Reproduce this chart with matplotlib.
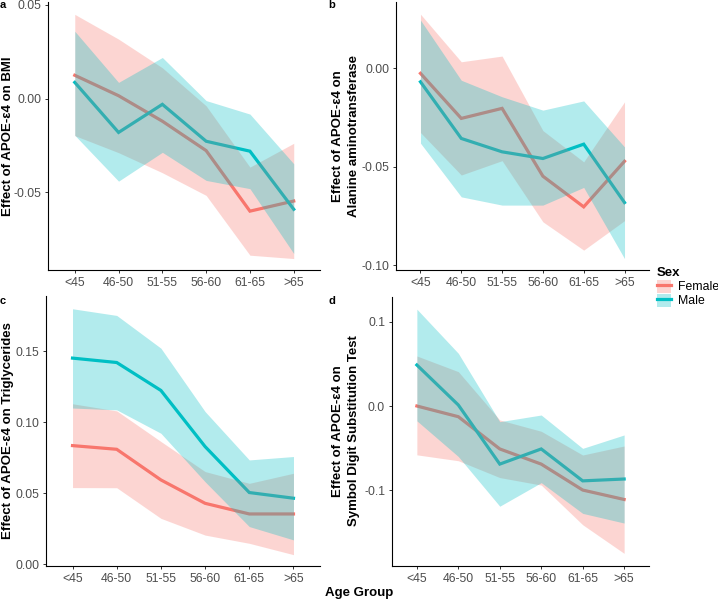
"""
APOE-e4 effect by age group and sex, four panels (BMI, ALT, TG, DSST)
"""

import matplotlib
matplotlib.use('Agg')
import matplotlib.pyplot as plt
from matplotlib.lines import Line2D
from matplotlib.patches import Patch

plt.rcParams['font.family'] = ['Liberation Sans', 'DejaVu Sans']
plt.rcParams['axes.unicode_minus'] = False

# Age groups
ages = ['<45', '46-50', '51-55', '56-60', '61-65', '>65']

# a - BMI
bmi_f = [0.0125, 0.0016, -0.012, -0.0277, -0.060, -0.0546]
bmi_f_lo = [-0.0197, -0.0288, -0.0395, -0.0516, -0.0835, -0.0853]
bmi_f_hi = [0.045, 0.0318, 0.0165, -0.0038, -0.0365, -0.0238]
bmi_m = [0.0087, -0.018, -0.003, -0.0227, -0.028, -0.059]
bmi_m_lo = [-0.0195, -0.044, -0.0286, -0.0436, -0.048, -0.0826]
bmi_m_hi = [0.036, 0.0087, 0.022, -0.001, -0.0082, -0.0347]

# b - Alanine aminotransferase
alt_f = [-0.0025, -0.0254, -0.0203, -0.0548, -0.0704, -0.0472]
alt_f_lo = [-0.0326, -0.0542, -0.0469, -0.078, -0.0924, -0.0774]
alt_f_hi = [0.0276, 0.0034, 0.0063, -0.0316, -0.0475, -0.017]
alt_m = [-0.0068, -0.0356, -0.0424, -0.0458, -0.0385, -0.0682]
alt_m_lo = [-0.038, -0.0653, -0.0695, -0.0695, -0.0605, -0.0967]
alt_m_hi = [0.0246, -0.006, -0.0144, -0.0212, -0.0165, -0.0399]

# c - Triglycerides
tg_f = [0.0835, 0.0809, 0.0593, 0.0428, 0.0353, 0.0353]
tg_f_lo = [0.0539, 0.0538, 0.0322, 0.0204, 0.0146, 0.0066]
tg_f_hi = [0.113, 0.108, 0.0864, 0.0652, 0.0569, 0.064]
tg_m = [0.1452, 0.1421, 0.1224, 0.0828, 0.0504, 0.0464]
tg_m_lo = [0.110, 0.1087, 0.0922, 0.058, 0.0264, 0.017]
tg_m_hi = [0.180, 0.1753, 0.1522, 0.1075, 0.0734, 0.0758]

# d - Symbol Digit Substitution Test
dsst_f = [0.0, -0.0127, -0.051, -0.069, -0.0998, -0.111]
dsst_f_lo = [-0.058, -0.065, -0.085, -0.0939, -0.141, -0.175]
dsst_f_hi = [0.0594, 0.0408, -0.0166, -0.03, -0.0582, -0.0475]
dsst_m = [0.0487, 0.0012, -0.069, -0.051, -0.0889, -0.0867]
dsst_m_lo = [-0.0176, -0.060, -0.119, -0.091, -0.1275, -0.139]
dsst_m_hi = [0.115, 0.0626, -0.0186, -0.0107, -0.0503, -0.0344]

female_col = '#F8766D'
male_col = '#00BFC4'

W, H = 718., 602.
fig = plt.figure(figsize=(W / 100, H / 100), dpi=100)


def box(left, right, top, bottom):
    return [left / W, 1 - bottom / H, (right - left) / W, (bottom - top) / H]


panels = [
    dict(pos=box(48.5, 320, 2, 270), letter='a', lpos=(3, 5),
         ylab='Effect of APOE-ε4 on BMI', ylpos=(8, 136),
         data=(bmi_f, bmi_f_lo, bmi_f_hi, bmi_m, bmi_m_lo, bmi_m_hi),
         ylim=(-0.0914, 0.0516), yt=[-0.05, 0.0, 0.05], ytl=['-0.05', '0.00', '0.05']),
    dict(pos=box(396, 649, 2, 270), letter='b', lpos=(332, 5),
         ylab='Effect of APOE-ε4 on\nAlanine aminotransferase', ylpos=(346, 136),
         data=(alt_f, alt_f_lo, alt_f_hi, alt_m, alt_m_lo, alt_m_hi),
         ylim=(-0.1025, 0.0338), yt=[-0.10, -0.05, 0.0], ytl=['-0.10', '-0.05', '0.00']),
    dict(pos=box(46, 320, 296, 566), letter='c', lpos=(3, 301),
         ylab='Effect of APOE-ε4 on Triglycerides', ylpos=(8, 431),
         data=(tg_f, tg_f_lo, tg_f_hi, tg_m, tg_m_lo, tg_m_hi),
         ylim=(-0.0014, 0.189), yt=[0.0, 0.05, 0.10, 0.15],
         ytl=['0.00', '0.05', '0.10', '0.15']),
    dict(pos=box(392, 649, 296.7, 566), letter='d', lpos=(332, 300.5),
         ylab='Effect of APOE-ε4 on\nSymbol Digit Substitution Test', ylpos=(346, 431),
         data=(dsst_f, dsst_f_lo, dsst_f_hi, dsst_m, dsst_m_lo, dsst_m_hi),
         ylim=(-0.19, 0.1298), yt=[-0.1, 0.0, 0.1], ytl=['-0.1', '0.0', '0.1']),
]

x = list(range(len(ages)))
for p in panels:
    ax = fig.add_axes(p['pos'])
    f, f_lo, f_hi, m, m_lo, m_hi = p['data']
    # lines first, ribbons drawn over them (as in the original)
    ax.plot(x, f, color=female_col, lw=2.3, zorder=1, solid_joinstyle='miter')
    ax.plot(x, m, color=male_col, lw=2.3, zorder=1, solid_joinstyle='miter')
    ax.fill_between(x, f_lo, f_hi, color=female_col, alpha=0.3, lw=0, zorder=2)
    ax.fill_between(x, m_lo, m_hi, color=male_col, alpha=0.3, lw=0, zorder=2)
    ax.set_xlim(-0.6, 5.6)
    ax.set_ylim(p['ylim'])
    ax.set_xticks(x)
    ax.set_xticklabels(ages)
    ax.set_yticks(p['yt'])
    ax.set_yticklabels(p['ytl'])
    for s in ['top', 'right']:
        ax.spines[s].set_visible(False)
    for s in ['left', 'bottom']:
        ax.spines[s].set_linewidth(0.8)
        ax.spines[s].set_color('black')
    ax.tick_params(length=2.5, width=0.7, color='#333333', labelcolor='#4D4D4D',
                   labelsize=8.8, pad=2.5)
    ax.patch.set_alpha(0)
    fig.text(p['ylpos'][0] / W, 1 - p['ylpos'][1] / H, p['ylab'], rotation=90,
             ha='center', va='center', multialignment='center', linespacing=1.35,
             fontsize=9.5, fontweight='bold', color='black')
    fig.text(p['lpos'][0] / W, 1 - p['lpos'][1] / H, p['letter'],
             ha='center', va='center', fontsize=8, fontweight='bold')

fig.text(0.5, 1 - 593 / H, 'Age Group', ha='center', va='center',
         fontsize=9.5, fontweight='bold')

handles = [(Patch(facecolor=female_col, alpha=0.3, lw=0), Line2D([], [], color=female_col, lw=2.3)),
           (Patch(facecolor=male_col, alpha=0.3, lw=0), Line2D([], [], color=male_col, lw=2.3))]
leg = fig.legend(handles, ['Female', 'Male'], title='Sex', loc='upper left',
                 bbox_to_anchor=(657 / W, 1 - 267 / H), frameon=False,
                 fontsize=8.8, title_fontproperties={'weight': 'bold', 'size': 9.5},
                 borderaxespad=0, borderpad=0, handlelength=1.15, handleheight=1.25,
                 handletextpad=0.55, labelspacing=0.05, alignment='left')
for t in leg.get_texts():
    t.set_color('black')

fig.savefig('out.png', dpi=100)
